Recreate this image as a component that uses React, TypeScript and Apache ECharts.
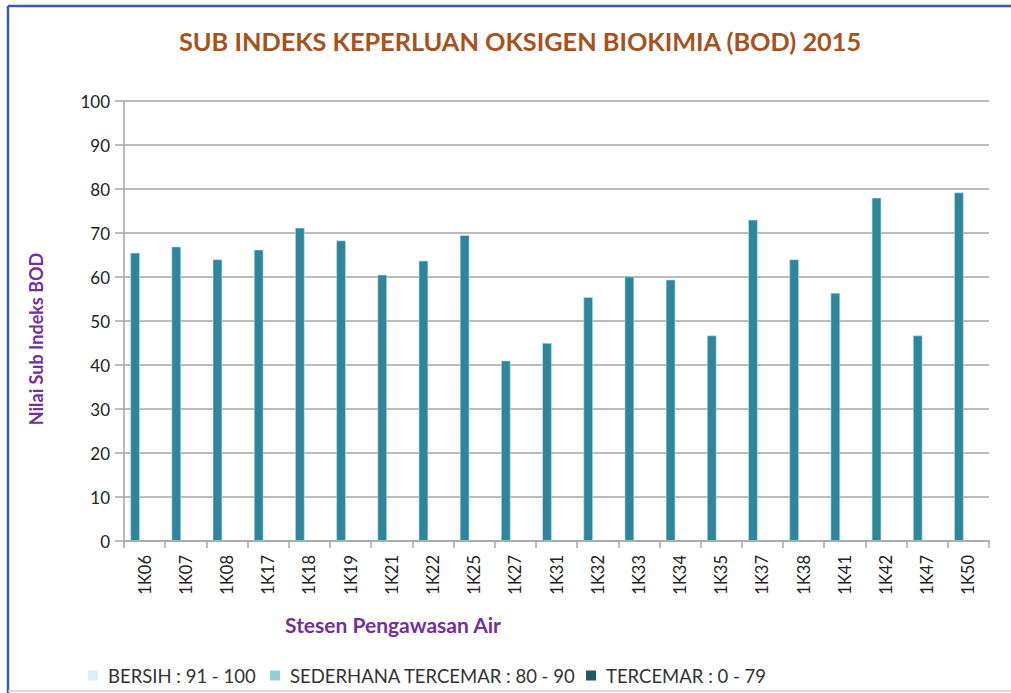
import React, { useEffect, useRef } from "react";
import * as echarts from "echarts";

const stations = ["1K06","1K07","1K08","1K17","1K18","1K19","1K21","1K22","1K25","1K27","1K31","1K32","1K33","1K34","1K35","1K37","1K38","1K41","1K42","1K47","1K50"];
const bodValues = [65.5,66.9,64.0,66.2,71.2,68.3,60.5,63.7,69.5,41.0,45.0,55.4,60.1,59.4,46.7,73.0,64.0,56.4,78.0,46.7,79.2];
const legendNames = ["BERSIH : 91 - 100", "SEDERHANA TERCEMAR : 80 - 90", "TERCEMAR : 0 - 79"];
const legendColors = ["#dbeef4", "#92cddc", "#215967"];
const legendLefts = [83, 265, 581];

const FONT = "Lato, 'Open Sans', sans-serif";

export default function App() {
  const ref = useRef<HTMLDivElement>(null);
  useEffect(() => {
    if (!ref.current) return;
    const chart = echarts.init(ref.current, null, { renderer: "svg" });
    chart.setOption({
      animation: false,
      backgroundColor: "#ffffff",
      title: {
        text: "SUB INDEKS KEPERLUAN OKSIGEN BIOKIMIA (BOD) 2015",
        left: 515,
        top: 23,
        textAlign: "center",
        textStyle: { fontFamily: FONT, fontSize: 25.3, fontWeight: "bold", color: "#a5521c" },
      },
      legend: legendNames.map((n, i) => ({
        left: legendLefts[i],
        top: 661,
        itemWidth: 10,
        itemHeight: 10,
        icon: "rect",
        textStyle: { fontFamily: FONT, fontSize: 18.5, color: "#333333", padding: [0, 0, 0, 5] },
        data: [{ name: n, itemStyle: { color: legendColors[i] } }],
      })),
      grid: { left: 124, right: 22, top: 101, bottom: 152, containLabel: false },
      xAxis: {
        type: "category",
        data: stations,
        axisLine: { lineStyle: { color: "#a6a6a6", width: 1.5 } },
        axisTick: { show: true, length: 7, lineStyle: { color: "#a6a6a6", width: 1.5 } },
        axisLabel: { rotate: 90, margin: 14, fontFamily: FONT, fontSize: 16.5, color: "#222222" },
      },
      yAxis: {
        type: "value",
        min: 0,
        max: 100,
        interval: 10,
        axisLine: { show: true, lineStyle: { color: "#a6a6a6", width: 1.5 } },
        axisTick: { show: true, length: 9, lineStyle: { color: "#a6a6a6", width: 1.5 } },
        axisLabel: { margin: 14, fontFamily: FONT, fontSize: 17, color: "#222222" },
        splitLine: { lineStyle: { color: "#a6a6a6", width: 1.5 } },
      },
      series: [
        {
          type: "bar",
          name: "BOD",
          data: bodValues,
          barWidth: 9.5,
          barGap: "0%",
          itemStyle: { color: "#2e869c", borderColor: "#c4e4ec", borderWidth: 0.6 },
        },
        {
          type: "bar",
          name: legendNames[0],
          data: [],
          barWidth: 9.5,
          barGap: "0%",
          itemStyle: { color: legendColors[0] },
        },
        {
          type: "bar",
          name: legendNames[1],
          data: [],
          barWidth: 9.5,
          barGap: "0%",
          itemStyle: { color: legendColors[1] },
        },
        {
          type: "line",
          name: legendNames[2],
          data: [],
          itemStyle: { color: legendColors[2] },
          lineStyle: { color: legendColors[2] },
        },
      ],
      graphic: [
        { type: "line", shape: { x1: 8, y1: 6, x2: 1011, y2: 6 }, style: { stroke: "#3f56b0", lineWidth: 2.5 } },
        { type: "line", shape: { x1: 8, y1: 6, x2: 8, y2: 693 }, style: { stroke: "#3f56b0", lineWidth: 2.5 } },
        { type: "line", shape: { x1: 8, y1: 691, x2: 1011, y2: 691 }, style: { stroke: "#d0d0d0", lineWidth: 1.5 } },
        {
          type: "text",
          x: 36,
          y: 339,
          rotation: Math.PI / 2,
          style: {
            text: "Nilai Sub Indeks BOD",
            fontFamily: FONT,
            fontSize: 18,
            fontWeight: "bold",
            fill: "#7030a0",
            align: "center",
            verticalAlign: "middle",
          },
        },
        {
          type: "text",
          x: 393,
          y: 624,
          style: {
            text: "Stesen Pengawasan Air",
            fontFamily: FONT,
            fontSize: 21,
            fontWeight: "bold",
            fill: "#7030a0",
            align: "center",
            verticalAlign: "middle",
          },
        },
      ],
    });
    return () => chart.dispose();
  }, []);
  return (
    <div
      ref={ref}
      style={{ position: "fixed", left: 0, top: 0, width: 1011, height: 693 }}
    />
  );
}
